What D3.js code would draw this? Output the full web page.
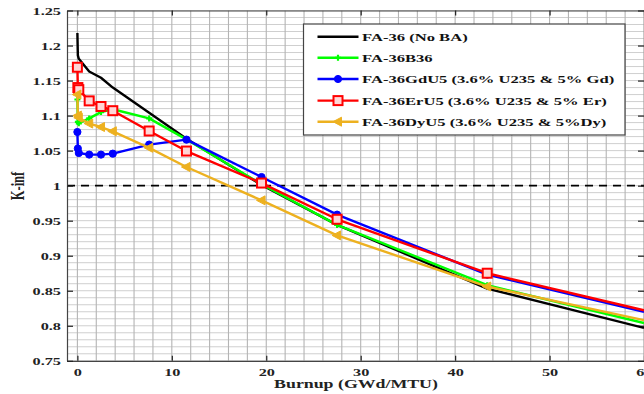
<!DOCTYPE html>
<html>
<head>
<meta charset="utf-8">
<script src="https://cdn.jsdelivr.net/npm/d3@7"></script>
<style>
  html, body { margin: 0; padding: 0; background: #fff; overflow: hidden; }
  svg { display: block; }
  text { font-family: "Liberation Serif", "DejaVu Serif", serif; font-weight: bold; }
</style>
</head>
<body>
<svg id="chart" width="644" height="394"></svg>
<script>
// ---- data ----
const burnup = [0, 0.05, 0.15, 1.25, 2.5, 3.75, 7.6, 11.55, 19.5, 27.5, 43.4, 60];
const kNoBA  = [1.218, 1.186, 1.181, 1.163, 1.154, 1.140, 1.104, 1.067, 1.001, 0.944, 0.853, 0.797];
const kB36   = [1.123, 1.091, 1.089, 1.096, 1.105, 1.109, 1.096, 1.066, 1.002, 0.944, 0.858, 0.804];
const kGdU5  = [1.0766, 1.053, 1.0466, 1.0443, 1.0443, 1.0457, 1.0586, 1.0657, 1.0123, 0.9586, 0.873, 0.820];
const kErU5  = [1.169, 1.140, 1.137, 1.121, 1.113, 1.107, 1.078, 1.0494, 1.0037, 0.952, 0.875, 0.822];
const kDyU5  = [1.130, 1.100, 1.097, 1.0886, 1.0837, 1.0776, 1.054, 1.0266, 0.979, 0.929, 0.856, 0.808];
const seriesNames = [
  "FA-36 (No BA)",
  "FA-36B36",
  "FA-36GdU5 (3.6% U235 & 5% Gd)",
  "FA-36ErU5 (3.6% U235 & 5% Er)",
  "FA-36DyU5 (3.6% U235 & 5%Dy)"
];
const xTicks = [0, 10, 20, 30, 40, 50, 60];
const yTicks = [0.75, 0.8, 0.85, 0.9, 0.95, 1, 1.05, 1.1, 1.15, 1.2, 1.25];
const xLabel = "Burnup (GWd/MTU)";
const yLabel = "K-inf";

// ---- layout ----
const L = 67, R = 644, T = 10.5, B = 360.8;
const SX = 1.55; // horizontal stretch of the reference's text
const svg = d3.select("#chart");
const x = d3.scaleLinear().domain([-1.1, 60]).range([L, R]);
const y = d3.scaleLinear().domain([0.75, 1.25]).range([B, T]);

svg.append("rect").attr("x", 0).attr("y", 0).attr("width", 644).attr("height", 394).attr("fill", "#fff");

// grid
const gridX = d3.range(0, 61, 2);
const gridY = d3.range(75, 126, 1).map(d => d / 100);
const grid = svg.append("g");
grid.selectAll("line.gy").data(gridY).join("line")
  .attr("x1", L).attr("x2", R).attr("y1", d => y(d)).attr("y2", d => y(d))
  .attr("stroke", "#cfcfcf").attr("stroke-width", 1);
grid.selectAll("line.gx").data(gridX).join("line")
  .attr("y1", T).attr("y2", B).attr("x1", d => x(d)).attr("x2", d => x(d))
  .attr("stroke", "#b4b4b4").attr("stroke-width", 1.1);

// dashed k=1 line
svg.append("line").attr("x1", L).attr("x2", R).attr("y1", y(1)).attr("y2", y(1))
  .attr("stroke", "#000").attr("stroke-width", 1.6).attr("stroke-dasharray", "8,6");

// axes
const axB = svg.append("g").attr("transform", `translate(0,${B})`)
  .call(d3.axisBottom(x).tickValues(xTicks).tickSizeInner(-5).tickSizeOuter(0).tickFormat(d3.format("d")));
const axT = svg.append("g").attr("transform", `translate(0,${T})`)
  .call(d3.axisTop(x).tickValues(xTicks).tickSizeInner(-5).tickSizeOuter(0).tickFormat(""));
const axL = svg.append("g").attr("transform", `translate(${L},0)`)
  .call(d3.axisLeft(y).tickValues(yTicks).tickSizeInner(-6).tickSizeOuter(0).tickFormat(d => d3.format("")(+d.toFixed(2))));
const axR = svg.append("g").attr("transform", `translate(${R},0)`)
  .call(d3.axisRight(y).tickValues(yTicks).tickSizeInner(-6).tickSizeOuter(0).tickFormat(""));
[axB, axT, axL, axR].forEach(a => {
  a.select(".domain").attr("stroke", "#444").attr("stroke-width", 1.2);
  a.selectAll(".tick line").attr("stroke", "#222").attr("stroke-width", 1.2);
});
axB.selectAll(".tick text")
  .attr("y", 0).attr("dy", 0).attr("fill", "#222").attr("font-size", 10.5)
  .attr("transform", `translate(0,15) scale(${SX},1)`);
axL.selectAll(".tick text")
  .attr("x", 0).attr("dy", "0.34em").attr("fill", "#222").attr("font-size", 10.5)
  .attr("transform", `translate(-6,0) scale(${SX},1)`);

// axis labels
svg.append("text").attr("text-anchor", "middle").attr("font-size", 11.5).attr("fill", "#222")
  .attr("transform", `translate(356,388) scale(${SX},1)`).text(xLabel);
svg.append("text").attr("text-anchor", "middle").attr("font-size", 12.5).attr("fill", "#222")
  .attr("transform", `translate(24,186) scale(${SX},1) rotate(-90)`).text(yLabel);

// clip
svg.append("clipPath").attr("id", "clip").append("rect")
  .attr("x", L).attr("y", T).attr("width", R - L).attr("height", B - T);
const plot = svg.append("g").attr("clip-path", "url(#clip)");

const series = [
  { vals: kNoBA, color: "#000000", marker: "none" },
  { vals: kB36,  color: "#00ff00", marker: "plus" },
  { vals: kGdU5, color: "#0000ff", marker: "circle" },
  { vals: kErU5, color: "#ff0000", marker: "square" },
  { vals: kDyU5, color: "#edb120", marker: "tri" }
];
const line = d3.line().x(d => x(d[0])).y(d => y(d[1]));

function drawMarker(g, type, color) {
  if (type === "plus") {
    g.append("path").attr("d", "M-3,0H3M0,-3V3").attr("stroke", color).attr("stroke-width", 2.2).attr("fill", "none");
  } else if (type === "circle") {
    g.append("circle").attr("r", 3.6).attr("fill", color).attr("stroke", color).attr("stroke-width", 1);
  } else if (type === "square") {
    g.append("rect").attr("x", -4.5).attr("y", -4.5).attr("width", 9).attr("height", 9)
      .attr("fill", "#ffd6d6").attr("stroke", color).attr("stroke-width", 2);
  } else if (type === "tri") {
    g.append("path").attr("d", "M-5,0L3.5,-4.5L3.5,4.5Z").attr("fill", color).attr("stroke", color).attr("stroke-width", 1);
  }
}

series.forEach(s => {
  const pts = burnup.map((b, i) => [b, s.vals[i]]);
  plot.append("path").datum(pts).attr("d", line)
    .attr("fill", "none").attr("stroke", s.color).attr("stroke-width", 2.4).attr("stroke-linejoin", "round");
  if (s.marker !== "none") {
    // the reference shows no marker at the final (60 GWd/MTU) edge point
    pts.slice(0, -1).forEach(p => {
      const g = plot.append("g").attr("transform", `translate(${x(p[0])},${y(p[1])})`);
      drawMarker(g, s.marker, s.color);
    });
  }
});

// legend
const lg = svg.append("g");
lg.append("rect").attr("x", 303.5).attr("y", 24).attr("width", 321.5).attr("height", 111)
  .attr("fill", "#fff").attr("stroke", "#444").attr("stroke-width", 1.2);
const rowY = [36.7, 57.8, 79, 100.6, 121.7];
series.forEach((s, i) => {
  const ry = rowY[i];
  lg.append("line").attr("x1", 317.5).attr("x2", 358.5).attr("y1", ry).attr("y2", ry)
    .attr("stroke", s.color).attr("stroke-width", 2.4);
  if (s.marker !== "none") {
    const g = lg.append("g").attr("transform", `translate(338,${ry})`);
    drawMarker(g, s.marker, s.color);
  }
  lg.append("text").attr("font-size", 11.3).attr("fill", "#111").attr("dy", "0.35em")
    .attr("transform", `translate(362,${ry}) scale(1.47,1)`).text(seriesNames[i]);
});
</script>
</body>
</html>
